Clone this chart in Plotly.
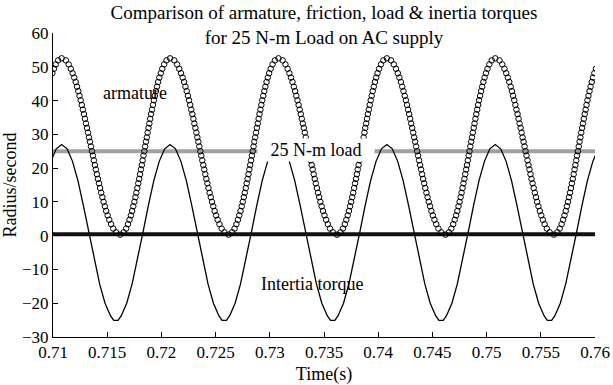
import plotly.graph_objects as go

# ---------------- data ----------------
# Armature torque samples (open circles)
arm_t_0 = [0.709940, 0.710081, 0.710252, 0.710472, 0.710800,
           0.711186, 0.711444, 0.711643, 0.711810, 0.711957, 0.712092, 0.712217, 0.712335, 0.712446, 0.712553,
           0.712657, 0.712756, 0.712855, 0.712950, 0.713044, 0.713137, 0.713229, 0.713320, 0.713409, 0.713500,
           0.713591, 0.713680, 0.713771, 0.713863, 0.713956, 0.714050, 0.714145, 0.714244, 0.714343, 0.714447,
           0.714554, 0.714665, 0.714783, 0.714908, 0.715043, 0.715190, 0.715357, 0.715556, 0.715814]
arm_v_0 = [48.1, 49.4, 50.7, 51.9, 52.5,
           51.9, 50.7, 49.4, 48.1, 46.8, 45.5, 44.1, 42.8, 41.4, 40.1, 38.7, 37.3, 36.0, 34.6, 33.2,
           31.9, 30.5, 29.1, 27.8, 26.4, 25.0, 23.7, 22.3, 20.9, 19.6, 18.2, 16.8, 15.5, 14.1, 12.7,
           11.4, 10.0, 8.7, 7.3, 6.0, 4.7, 3.4, 2.1, 1.0]

arm_t_1 = [0.716200, 0.716528, 0.716748, 0.716919, 0.717060, 0.717185, 0.717300, 0.717407, 0.717507, 0.717602,
           0.717693, 0.717781, 0.717866, 0.717951, 0.718032, 0.718112, 0.718191, 0.718269, 0.718346, 0.718423,
           0.718500, 0.718577, 0.718654, 0.718731, 0.718809, 0.718888, 0.718968, 0.719049, 0.719134, 0.719219,
           0.719307, 0.719398, 0.719493, 0.719593, 0.719700, 0.719815, 0.719940, 0.720081, 0.720252, 0.720472,
           0.720800,
           0.721186, 0.721444, 0.721643, 0.721810, 0.721957, 0.722092, 0.722217, 0.722335, 0.722446, 0.722553,
           0.722657, 0.722756, 0.722855, 0.722950, 0.723044, 0.723137, 0.723229, 0.723320, 0.723409, 0.723500,
           0.723591, 0.723680, 0.723771, 0.723863, 0.723956, 0.724050, 0.724145, 0.724244, 0.724343, 0.724447,
           0.724554, 0.724665, 0.724783, 0.724908, 0.725043, 0.725190, 0.725357, 0.725556, 0.725814]
arm_t_2 = [0.726200, 0.726528, 0.726748, 0.726919, 0.727060, 0.727185, 0.727300, 0.727407, 0.727507, 0.727602,
           0.727693, 0.727781, 0.727866, 0.727951, 0.728032, 0.728112, 0.728191, 0.728269, 0.728346, 0.728423,
           0.728500, 0.728577, 0.728654, 0.728731, 0.728809, 0.728888, 0.728968, 0.729049, 0.729134, 0.729219,
           0.729307, 0.729398, 0.729493, 0.729593, 0.729700, 0.729815, 0.729940, 0.730081, 0.730252, 0.730472,
           0.730800,
           0.731186, 0.731444, 0.731643, 0.731810, 0.731957, 0.732092, 0.732217, 0.732335, 0.732446, 0.732553,
           0.732657, 0.732756, 0.732855, 0.732950, 0.733044, 0.733137, 0.733229, 0.733320, 0.733409, 0.733500,
           0.733591, 0.733680, 0.733771, 0.733863, 0.733956, 0.734050, 0.734145, 0.734244, 0.734343, 0.734447,
           0.734554, 0.734665, 0.734783, 0.734908, 0.735043, 0.735190, 0.735357, 0.735556, 0.735814]
arm_t_3 = [0.736200, 0.736528, 0.736748, 0.736919, 0.737060, 0.737185, 0.737300, 0.737407, 0.737507, 0.737602,
           0.737693, 0.737781, 0.737866, 0.737951, 0.738032, 0.738112, 0.738191, 0.738269, 0.738346, 0.738423,
           0.738500, 0.738577, 0.738654, 0.738731, 0.738809, 0.738888, 0.738968, 0.739049, 0.739134, 0.739219,
           0.739307, 0.739398, 0.739493, 0.739593, 0.739700, 0.739815, 0.739940, 0.740081, 0.740252, 0.740472,
           0.740800,
           0.741186, 0.741444, 0.741643, 0.741810, 0.741957, 0.742092, 0.742217, 0.742335, 0.742446, 0.742553,
           0.742657, 0.742756, 0.742855, 0.742950, 0.743044, 0.743137, 0.743229, 0.743320, 0.743409, 0.743500,
           0.743591, 0.743680, 0.743771, 0.743863, 0.743956, 0.744050, 0.744145, 0.744244, 0.744343, 0.744447,
           0.744554, 0.744665, 0.744783, 0.744908, 0.745043, 0.745190, 0.745357, 0.745556, 0.745814]
arm_t_4 = [0.746200, 0.746528, 0.746748, 0.746919, 0.747060, 0.747185, 0.747300, 0.747407, 0.747507, 0.747602,
           0.747693, 0.747781, 0.747866, 0.747951, 0.748032, 0.748112, 0.748191, 0.748269, 0.748346, 0.748423,
           0.748500, 0.748577, 0.748654, 0.748731, 0.748809, 0.748888, 0.748968, 0.749049, 0.749134, 0.749219,
           0.749307, 0.749398, 0.749493, 0.749593, 0.749700, 0.749815, 0.749940, 0.750081, 0.750252, 0.750472,
           0.750800,
           0.751186, 0.751444, 0.751643, 0.751810, 0.751957, 0.752092, 0.752217, 0.752335, 0.752446, 0.752553,
           0.752657, 0.752756, 0.752855, 0.752950, 0.753044, 0.753137, 0.753229, 0.753320, 0.753409, 0.753500,
           0.753591, 0.753680, 0.753771, 0.753863, 0.753956, 0.754050, 0.754145, 0.754244, 0.754343, 0.754447,
           0.754554, 0.754665, 0.754783, 0.754908, 0.755043, 0.755190, 0.755357, 0.755556, 0.755814]
arm_v_full = [0.3, 1.0, 2.1, 3.4, 4.7, 6.0, 7.3, 8.7, 10.0, 11.4, 12.7, 14.1, 15.5, 16.8, 18.2, 19.6,
              20.9, 22.3, 23.7, 25.0, 26.4, 27.8, 29.1, 30.5, 31.9, 33.2, 34.6, 36.0, 37.3, 38.7, 40.1, 41.4,
              42.8, 44.1, 45.5, 46.8, 48.1, 49.4, 50.7, 51.9, 52.5,
              51.9, 50.7, 49.4, 48.1, 46.8, 45.5, 44.1, 42.8, 41.4, 40.1, 38.7, 37.3, 36.0, 34.6, 33.2,
              31.9, 30.5, 29.1, 27.8, 26.4, 25.0, 23.7, 22.3, 20.9, 19.6, 18.2, 16.8, 15.5, 14.1, 12.7,
              11.4, 10.0, 8.7, 7.3, 6.0, 4.7, 3.4, 2.1, 1.0]

arm_t_5 = [0.756200, 0.756528, 0.756748, 0.756919, 0.757060, 0.757185, 0.757300, 0.757407, 0.757507, 0.757602,
           0.757693, 0.757781, 0.757866, 0.757951, 0.758032, 0.758112, 0.758191, 0.758269, 0.758346, 0.758423,
           0.758500, 0.758577, 0.758654, 0.758731, 0.758809, 0.758888, 0.758968, 0.759049, 0.759134, 0.759219,
           0.759307, 0.759398, 0.759493, 0.759593, 0.759700, 0.759815, 0.759940, 0.760081]
arm_v_5 = [0.3, 1.0, 2.1, 3.4, 4.7, 6.0, 7.3, 8.7, 10.0, 11.4, 12.7, 14.1, 15.5, 16.8, 18.2, 19.6,
           20.9, 22.3, 23.7, 25.0, 26.4, 27.8, 29.1, 30.5, 31.9, 33.2, 34.6, 36.0, 37.3, 38.7, 40.1, 41.4,
           42.8, 44.1, 45.5, 46.8, 48.1, 49.4]

arm_time = arm_t_0 + arm_t_1 + arm_t_2 + arm_t_3 + arm_t_4 + arm_t_5
arm_value = arm_v_0 + arm_v_full + arm_v_full + arm_v_full + arm_v_full + arm_v_5

# Inertia torque (thin line)
inertia_time = [0.7098, 0.7103,
                0.7108, 0.7113, 0.7118, 0.7123, 0.7128, 0.7133, 0.7138, 0.7143, 0.7148, 0.7153, 0.7156,
                0.7160, 0.7163, 0.7168, 0.7173, 0.7178, 0.7183, 0.7188, 0.7193, 0.7198, 0.7203,
                0.7208, 0.7213, 0.7218, 0.7223, 0.7228, 0.7233, 0.7238, 0.7243, 0.7248, 0.7253, 0.7256,
                0.7260, 0.7263, 0.7268, 0.7273, 0.7278, 0.7283, 0.7288, 0.7293, 0.7298, 0.7303,
                0.7308, 0.7313, 0.7318, 0.7323, 0.7328, 0.7333, 0.7338, 0.7343, 0.7348, 0.7353, 0.7356,
                0.7360, 0.7363, 0.7368, 0.7373, 0.7378, 0.7383, 0.7388, 0.7393, 0.7398, 0.7403,
                0.7408, 0.7413, 0.7418, 0.7423, 0.7428, 0.7433, 0.7438, 0.7443, 0.7448, 0.7453, 0.7456,
                0.7460, 0.7463, 0.7468, 0.7473, 0.7478, 0.7483, 0.7488, 0.7493, 0.7498, 0.7503,
                0.7508, 0.7513, 0.7518, 0.7523, 0.7528, 0.7533, 0.7538, 0.7543, 0.7548, 0.7553, 0.7556,
                0.7560, 0.7563, 0.7568, 0.7573, 0.7578, 0.7583, 0.7588, 0.7593, 0.7598, 0.7603]
inertia_period = [27.0, 25.7, 22.0, 16.3, 9.0, 1.0, -7.0, -14.3, -20.0, -23.7, -25.1,
                  -25.1, -23.7, -20.0, -14.3, -7.0, 1.0, 9.0, 16.3, 22.0, 25.7]
inertia_value = [22.0, 25.7] + inertia_period * 5

# Load and friction torques (constant)
const_time = [0.71, 0.76]
load_value = [25, 25]
friction_value = [0.4, 0.4]

x_ticks = [0.71, 0.715, 0.72, 0.725, 0.73, 0.735, 0.74, 0.745, 0.75, 0.755, 0.76]
x_tick_text = ["0.71", "0.715", "0.72", "0.725", "0.73", "0.735", "0.74", "0.745", "0.75", "0.755", "0.76"]
y_ticks = [-30, -20, -10, 0, 10, 20, 30, 40, 50, 60]

FONT = "Liberation Serif"

fig = go.Figure()
fig.add_trace(go.Scatter(x=const_time, y=load_value, mode="lines",
                         line=dict(color="#a0a0a0", width=4), showlegend=False))
fig.add_trace(go.Scatter(x=const_time, y=friction_value, mode="lines",
                         line=dict(color="#111111", width=4), showlegend=False))
fig.add_trace(go.Scatter(x=inertia_time, y=inertia_value, mode="lines",
                         line=dict(color="black", width=1.3), showlegend=False))
fig.add_trace(go.Scatter(x=arm_time, y=arm_value, mode="markers",
                         marker=dict(symbol="circle-open", size=5.5, color="black", line=dict(width=1)),
                         showlegend=False))

fig.add_annotation(x=0.7176, y=42.3, text="armature", showarrow=False,
                   font=dict(family=FONT, size=18, color="black"))
fig.add_annotation(x=0.7343, y=25.3, text="25 N-m load", showarrow=False, bgcolor="white",
                   width=114, font=dict(family=FONT, size=18, color="black"))
fig.add_annotation(x=0.7339, y=-14.2, text="Intertia torque", showarrow=False,
                   font=dict(family=FONT, size=18, color="black"))

fig.update_layout(
    width=613, height=385,
    margin=dict(l=53, r=18, t=33, b=48),
    paper_bgcolor="white", plot_bgcolor="white",
    font=dict(family=FONT, size=17, color="black"),
    title=dict(text="Comparison of armature, friction, load & inertia torques<br>for 25 N-m Load on AC supply",
               x=0.5, xref="paper", y=1 - 19 / 385, yref="container", yanchor="middle",
               font=dict(family=FONT, size=19, color="black")),
    xaxis=dict(range=[0.71, 0.76], tickvals=x_ticks, ticktext=x_tick_text, ticks="inside", ticklen=5,
               tickcolor="black", showline=True, linecolor="black", linewidth=1, showgrid=False,
               zeroline=False, mirror=False, automargin=False,
               title=dict(text="Time(s)", standoff=11, font=dict(family=FONT, size=18))),
    yaxis=dict(range=[-30, 60], tickvals=y_ticks, ticks="inside", ticklen=5, tickcolor="black",
               showline=True, linecolor="black", linewidth=1, showgrid=False, zeroline=False, mirror=False,
               automargin=False,
               title=dict(text="Radius/second", standoff=3, font=dict(family=FONT, size=18))),
)

fig.write_html("out.html")
